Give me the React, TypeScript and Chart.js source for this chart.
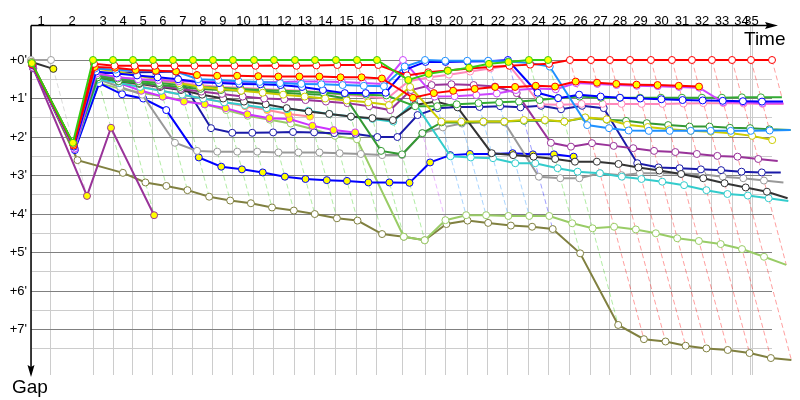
import React, { useEffect, useRef } from "react";
import { Chart, registerables } from "chart.js";
Chart.register(...registerables);

const _ = null;

// reference (leader) elapsed time in minutes at the end of each lap 0..35
const lapTimes = [0, 1.96, 6.08, 8.04, 10.0, 11.96, 13.92, 15.88, 17.84, 19.8, 21.86, 23.82, 25.88, 27.84, 29.9, 31.96, 33.92, 36.47, 38.63, 40.59, 42.75, 44.8, 46.76, 48.82, 50.69, 52.84, 54.9, 56.76, 58.73, 60.78, 62.84, 64.8, 66.76, 68.73, 70.59, 72.65];
const finishTime = 70.69;
const lapLabels = ["1","2","3","4","5","6","7","8","9","10","11","12","13","14","15","16","17","18","19","20","21","22","23","24","25","26","27","28","29","30","31","32","33","34","35"];
const gapTicks = [0, 0.5, 1, 1.5, 2, 2.5, 3, 3.5, 4, 4.5, 5, 5.5, 6, 6.5, 7, 7.5];
const gapLabels = ["+0'", "+1'", "+2'", "+3'", "+4'", "+5'", "+6'", "+7'"];

// gaps (minutes) per lap 0..35
const gray1 = [0, 0];
const black1 = [0.05, 0.23];
const lime = [0.08, 2.15, 0,0,0,0,0,0,0,0,0,0,0,0,0,0,0, 0.52,0.36,0.28,0.2,0.1,0.05,0,0];
const redW = [0.1, 2.18, 0.1, 0.15,0.15,0.15,0.15,0.15,0.15,0.15,0.15,0.14,0.15,0.14,0.13,0.13,0.13, 0.4,0.32,0.27,0.22,0.18,0.15,0.12,0.1, 0,0,0,0,0,0,0,0,0,0,0];
const redY = [0.12, 2.22, 0.18, 0.2,0.26,0.28,0.3,0.39,0.41,0.41,0.42,0.43,0.43,0.43,0.45,0.45,0.48, 0.98,0.86,0.8,0.75,0.7,0.7,0.67,0.69, 0.56,0.59,0.62,0.64,0.65,0.67,0.69];
const violet = [0.15, 2.3, 0.35, 0.45,0.5,0.52,0.55,0.56,0.57,0.58,0.58,0.57,0.56,0.56,0.57,0.6,0.62, 0, 0.95,0.94,0.91,0.87,0.78,0.74,0.76,0.6,0.62,0.65,0.67,0.68,0.7,0.72, 1.1,1.1,1.12,1.12];
const dodger = [0.1, 2.2, 0.22, 0.25,0.27,0.28,0.3,0.5,0.52,0.55,0.57,0.6,0.62,0.63,0.65,0.67,0.68, 0.17,0,0.02,0.02,0.02,0.04,0.08,0.17, 1.69,1.77,1.83,1.84,1.84,1.84,1.84,1.84,1.84,1.83,1.82];
const blue = [0.13, 2.25, 0.3, 0.35,0.4,0.45,0.5,0.58,0.6,0.62,0.63,0.65,0.7,0.78,0.86,0.86,0.85, 0.25,0.05,0.05,0.04,0.03,0,0.85,0.99, 0.9,0.95,0.98,1.0,1.02,1.04,1.05,1.06,1.07,1.08,1.08];
const navy = [0.18, 2.28, 0.35, 0.33,0.32,0.31,0.3, 1.77,1.89,1.89,1.88,1.87,1.88,1.9,1.92,2.0,2.0, 1.43,1.25,1.22,1.22,1.2,1.23,1.19,1.28, 1.19,1.25, 2.68,2.79,2.81,2.84,2.86,2.9,2.92,2.92];
const blueY = [0.2, 2.34, 0.6, 0.89,1.0,1.3,2.53,2.77,2.84,2.92,3.03,3.09,3.12,3.14,3.18,3.18,3.19, 2.66,2.47,2.44,2.44,2.42,2.45,2.45,2.51];
const black = [0.12, 2.25, 0.45,0.55,0.62,0.7,0.78,0.9,1.0,1.08,1.15,1.25,1.34,1.4,1.47,1.51,1.56, 1.17,1.08,1.23,2.42,2.47,2.51,2.57,2.64,2.64,2.7,2.79,2.87,2.96,3.07,3.2,3.31,3.42,3.59];
const cyan = [0.15, 2.3, 0.5,0.6,0.7,0.8,0.9,1.0,1.1,1.17,1.25,1.28,1.32,1.4,1.47,1.53,1.6, 1.08, 2.5,2.53,2.55,2.68,2.68,2.81,2.9,2.94,3.03,3.09,3.16,3.25,3.38,3.48,3.52,3.59,3.66];
const gray2 = [0.1, 2.2, 0.5,0.7,0.9,2.15,2.36,2.38,2.38,2.38,2.4,2.4,2.4,2.42,2.44,2.47,2.47, 1.9,1.75,1.65,1.62,1.62,3.03,3.07,3.07,2.94,2.99,2.94,2.94,2.95,2.97,3.03,3.07,3.13,3.18];
const yellow = [0.1, 2.2, 0.22,0.3,0.4,0.5,0.6,0.7,0.75,0.8,0.85,0.9,0.95,1.0,1.05,1.1,1.17, 0.7,1.6,1.6,1.6,1.6,1.56,1.56,1.6,1.49,1.54,1.68,1.74,1.8,1.84,1.86,1.9,1.97,2.08];
const darkGreen = [0.12, 2.25, 0.45,0.55,0.6,0.65,0.7,0.75,0.78,0.8,0.82,0.85,0.88,0.9,1.0,2.36,2.45, 1.9,1.62,1.62,1.6,1.6,1.58,1.57,1.6,1.5,1.55,1.58,1.64,1.69,1.73,1.73,1.76,1.77,1.8,1.82];
const green2 = [0.1, 2.2, 0.4,0.48,0.55,0.6,0.65,0.7,0.72,0.75,0.78,0.8,0.82,0.85,0.88,0.9,0.92, 1.2,1.2,1.15,1.12,1.1,1.08,1.04,0.99,0.95,0.98,0.98,0.98,0.98,0.98,0.98,0.98,0.97,0.97,0.97];
const purple = [0.2, 2.3, 0.4,0.5,0.6,0.68,0.75,0.82,0.88,0.95,1.0,1.02,1.04,1.08,1.12,1.2,1.3, 0.78,0.65,0.63,0.65,0.69,0.86,2.15,2.25,2.16,2.23,2.29,2.36,2.39,2.44,2.49,2.51,2.57,2.62];
const purple2 = [0.22, 3.53, 1.76, 4.03];
const magenta = [0.15, 2.3, 0.45,0.6,0.8,0.95,1.08,1.15,1.25,1.41,1.51,1.53,1.71,1.82,1.88];
const salmon = [0.18, 2.3, 0.4,0.55,0.68,0.8,0.9,1.0,1.1,1.2,1.3,1.4,1.47];
const pink = [0.15, 2.25, 0.35,0.45,0.5,0.55,0.6,0.65,0.7,0.72,0.75,0.78,0.8,0.85,0.9,0.95,1.0, 0.55,0.45,0.38,0.3,0.22,0.15,1.15,1.16,1.14,1.14,1.14,1.14,1.14,1.13,1.12,1.12,1.13,1.14,1.14];
const yGreen = [0.12, 2.3, 0.6,0.75,0.85,0.95,1.05,1.15,1.3,1.45,1.55,1.65,1.8,1.97,2.06,4.59,4.68, 4.16,4.03,4.03,4.05,4.05,4.05,4.24,4.37,4.33,4.4,4.5,4.63,4.7,4.78,4.91,5.11,5.32];
const olive = [0.05, 2.6, 2.93,3.18,3.27,3.38,3.55,3.65,3.72,3.83,3.91,4.0,4.11,4.17,4.52,4.59,4.68, 4.26,4.17,4.23,4.3,4.33,4.39,5.02,6.88,7.25,7.31,7.42,7.49,7.53,7.61,7.74,7.79];

type S = { name: string; color: string; gaps: (number | null)[]; yellow?: [number, number] };
const series: S[] = [
  { name: "lime", color: "#33cc11", gaps: lime, yellow: [0, 35] },
  { name: "redW", color: "#ff0000", gaps: redW },
  { name: "redY", color: "#ff0000", gaps: redY, yellow: [0, 35] },
  { name: "dodger", color: "#1e90ff", gaps: dodger },
  { name: "blue", color: "#0000ff", gaps: blue },
  { name: "violet", color: "#cc44ff", gaps: violet },
  { name: "yellow", color: "#cccc00", gaps: yellow },
  { name: "green2", color: "#33aa33", gaps: green2 },
  { name: "darkGreen", color: "#339933", gaps: darkGreen },
  { name: "purple", color: "#993399", gaps: purple },
  { name: "pink", color: "#ff88bb", gaps: pink },
  { name: "black", color: "#333333", gaps: black },
  { name: "cyan", color: "#33cccc", gaps: cyan },
  { name: "salmon", color: "#ff8899", gaps: salmon, yellow: [0, 35] },
  { name: "magenta", color: "#cc33ff", gaps: magenta, yellow: [0, 35] },
  { name: "navy", color: "#1a1aa8", gaps: navy },
  { name: "gray2", color: "#999999", gaps: gray2 },
  { name: "blueY", color: "#0000ff", gaps: blueY, yellow: [6, 24] },
  { name: "purple2", color: "#993399", gaps: purple2, yellow: [0, 35] },
  { name: "yGreen", color: "#99cc66", gaps: yGreen },
  { name: "olive", color: "#808040", gaps: olive },
  { name: "gray1", color: "#a0a0a0", gaps: gray1 },
  { name: "black1", color: "#333333", gaps: black1, yellow: [1, 1] },
];

function rgba(hex: string, a: number) {
  const n = parseInt(hex.slice(1), 16);
  return `rgba(${(n >> 16) & 255},${(n >> 8) & 255},${n & 255},${a})`;
}

function buildDatasets() {
  const ds: any[] = [];
  series.forEach((s) => {
    const pts: { x: number; y: number }[] = [];
    const fills: string[] = [];
    s.gaps.forEach((g, lap) => {
      if (g === null || g === undefined) return;
      pts.push({ x: lapTimes[lap] + g, y: g });
      const yl = s.yellow && lap >= s.yellow[0] && lap <= s.yellow[1];
      fills.push(yl ? "#ffff00" : "#ffffff");
    });
    ds.push({
      label: s.name,
      data: pts,
      borderColor: s.color,
      borderWidth: 2,
      pointRadius: 3.5,
      pointHoverRadius: 3.5,
      pointBorderWidth: 1,
      pointBorderColor: s.color,
      pointBackgroundColor: fills,
      tension: 0,
      clip: false,
    });
  });
  for (let lap = 1; lap < lapTimes.length; lap++) {
    const items = series
      .filter((s) => s.gaps[lap] !== null && s.gaps[lap] !== undefined)
      .map((s) => ({ g: s.gaps[lap] as number, c: s.color }))
      .sort((a, b) => a.g - b.g);
    if (items.length < 2) continue;
    ds.push({
      label: "lap" + lap,
      data: items.map((it) => ({ x: lapTimes[lap] + it.g, y: it.g })),
      borderColor: rgba(items[0].c, 0.38),
      borderWidth: 1,
      borderDash: [5, 3],
      pointRadius: 0,
      tension: 0,
      clip: false,
    });
  }
  return ds;
}

const gridTimes = [...lapTimes.slice(0, 35), finishTime];
const labelTimes = lapLabels.map((_l, i) => (gridTimes[i] + gridTimes[i + 1]) / 2);

const decor = {
  id: "decor",
  beforeDatasetsDraw(chart: any) {
    const { ctx, chartArea: a } = chart;
    ctx.save();
    ctx.strokeStyle = "#000";
    ctx.fillStyle = "#000";
    ctx.lineWidth = 1.5;
    const ty = a.top - 0.5;
    ctx.beginPath();
    ctx.moveTo(a.left, ty);
    ctx.lineTo(a.right - 2, ty);
    ctx.stroke();
    ctx.beginPath();
    ctx.moveTo(a.right + 6, ty);
    ctx.lineTo(a.right - 7, ty - 3.5);
    ctx.lineTo(a.right - 5, ty);
    ctx.lineTo(a.right - 7, ty + 3.5);
    ctx.closePath();
    ctx.fill();
    ctx.beginPath();
    ctx.moveTo(a.left, ty);
    ctx.lineTo(a.left, a.bottom - 6);
    ctx.stroke();
    ctx.beginPath();
    ctx.moveTo(a.left, a.bottom + 2);
    ctx.lineTo(a.left - 3.5, a.bottom - 10);
    ctx.lineTo(a.left, a.bottom - 8);
    ctx.lineTo(a.left + 3.5, a.bottom - 10);
    ctx.closePath();
    ctx.fill();
    ctx.restore();
  },
  afterDraw(chart: any) {
    const { ctx, chartArea: a } = chart;
    ctx.save();
    ctx.fillStyle = "#000";
    ctx.font = "19px 'Liberation Sans', Arial, sans-serif";
    ctx.textBaseline = "alphabetic";
    ctx.textAlign = "left";
    ctx.fillText("Time", a.right - 28, a.top + 19);
    ctx.fillText("Gap", 12, a.bottom + 18);
    ctx.restore();
  },
};

export default function App() {
  const ref = useRef<HTMLCanvasElement>(null);
  useEffect(() => {
    const font = { family: "'Liberation Sans', Arial, sans-serif", size: 13 };
    const chart = new Chart(ref.current as HTMLCanvasElement, {
      type: "line",
      data: { datasets: buildDatasets() },
      plugins: [decor],
      options: {
        animation: false,
        responsive: false,
        devicePixelRatio: 1,
        events: [],
        layout: { padding: { left: 0, top: 0, right: 28, bottom: 25 } },
        plugins: { legend: { display: false }, tooltip: { enabled: false } },
        scales: {
          x: {
            type: "linear",
            position: "bottom",
            min: 0,
            max: 72.65,
            afterBuildTicks: (s: any) => { s.ticks = gridTimes.map((v) => ({ value: v })); },
            afterFit: (s: any) => { s.height = 0; },
            ticks: { display: false },
            grid: { color: "#cccccc", drawTicks: false, lineWidth: 1 },
            border: { display: false },
          },
          xTop: {
            type: "linear",
            position: "top",
            min: 0,
            max: 72.65,
            afterBuildTicks: (s: any) => { s.ticks = labelTimes.map((v) => ({ value: v })); },
            afterFit: (s: any) => { s.height = 26; },
            ticks: {
              autoSkip: false,
              maxRotation: 0,
              padding: -3,
              color: "#000",
              font,
              callback: (_v: any, i: number) => lapLabels[i],
            },
            grid: { display: false, drawTicks: false },
            border: { display: false },
          },
          y: {
            type: "linear",
            position: "left",
            reverse: true,
            min: -0.883,
            max: 8.18,
            afterBuildTicks: (s: any) => { s.ticks = gapTicks.map((v) => ({ value: v })); },
            afterFit: (s: any) => { s.width = 31; },
            ticks: {
              autoSkip: false,
              padding: 4,
              color: "#000",
              font,
              callback: (v: any) => (Number.isInteger(v) ? gapLabels[v] : ""),
            },
            grid: {
              drawTicks: false,
              color: (c: any) => (Number.isInteger(c.tick && c.tick.value) ? "#808080" : "#cccccc"),
            },
            border: { display: false },
          },
        },
      },
    } as any);
    return () => chart.destroy();
  }, []);
  return (
    <div style={{ position: "fixed", left: 0, top: 0, width: 800, height: 400, background: "#fff" }}>
      <canvas ref={ref} width={800} height={400} style={{ width: 800, height: 400, display: "block" }} />
    </div>
  );
}
